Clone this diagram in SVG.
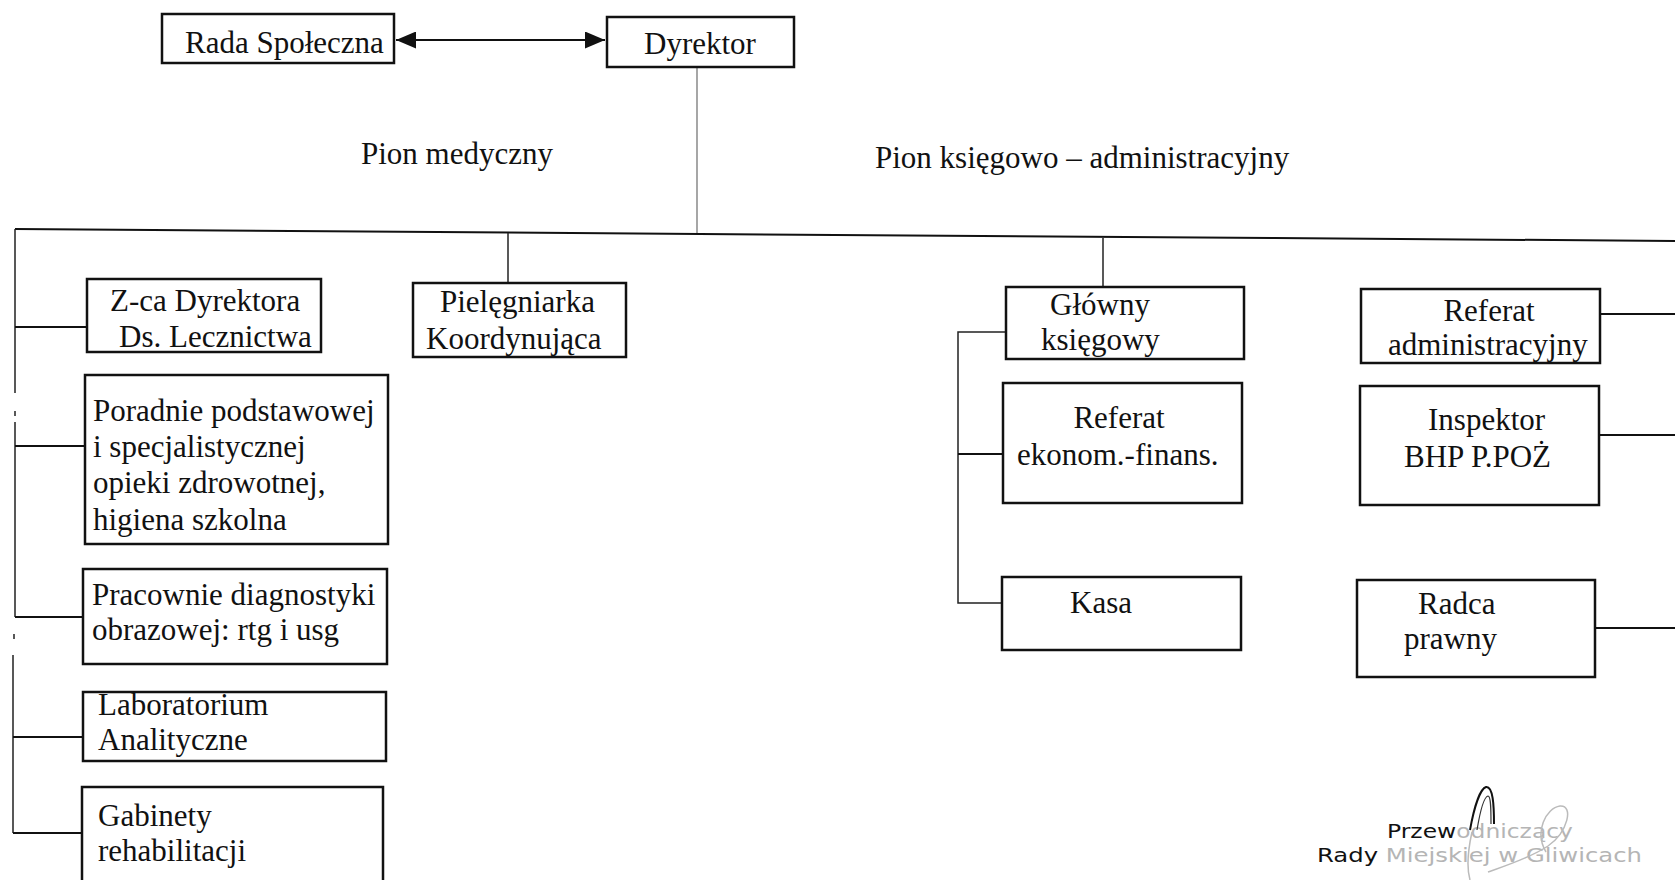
<svg xmlns="http://www.w3.org/2000/svg" width="1675" height="880" viewBox="0 0 1675 880">
<style>
.box{fill:none;stroke:#111;stroke-width:2.5}
.t{font-family:"Liberation Serif","Times New Roman",serif;font-size:31px;fill:#111}
.c{text-anchor:middle}
.ln{stroke:#111;stroke-width:2;fill:none}
.thin{stroke:#222;stroke-width:1.5;fill:none}
.faint{stroke:#777;stroke-width:1.3;fill:none}
.stamp{font-family:"DejaVu Sans","Liberation Sans",sans-serif;font-size:19px;fill:#111}
.grey{fill:#b5b5b5}
</style>
<defs>
<marker id="ah" markerUnits="userSpaceOnUse" markerWidth="20" markerHeight="17" refX="20" refY="8.5" orient="auto-start-reverse">
<path d="M0,0 L20,8.5 L0,17 Z" fill="#111"/>
</marker>
</defs>
<rect width="1675" height="880" fill="#fff"/>

<g id="connectors">
<line class="ln" x1="396" y1="40" x2="605" y2="40" marker-start="url(#ah)" marker-end="url(#ah)"/>
<line class="faint" x1="697" y1="67" x2="697" y2="233"/>
<polyline class="ln" points="15,229 700,234 1275,238 1675,241"/>
<line class="thin" x1="508" y1="233" x2="508" y2="283"/>
<line class="thin" x1="1103" y1="238" x2="1103" y2="287"/>
<path class="thin" d="M15,229 V393 M15,411 V416 M15,422 V617 M14,634 V639 M13,655 V833"/>
<path class="ln" d="M15,327 H87 M15,446 H85 M15,617 H83 M13,737 H83 M13,833 H82"/>
<path class="thin" d="M1006,332 H958 V603 H1002"/>
<path class="ln" d="M958,454 H1003"/>
<path class="ln" d="M1600,314 H1675 M1599,435 H1675 M1595,628 H1675"/>
</g>

<g id="rada"><rect class="box" x="162" y="14" width="232" height="49"/><text class="t" x="185" y="53">Rada Społeczna</text></g>
<g id="dyrektor"><rect class="box" x="607" y="17" width="187" height="50"/><text class="t" x="644" y="54">Dyrektor</text></g>
<g id="pion-medyczny"><text class="t" x="361" y="164">Pion medyczny</text></g>
<g id="pion-ksiegowo"><text class="t" x="875" y="168">Pion księgowo – administracyjny</text></g>

<g id="zca"><rect class="box" x="87" y="279" width="234" height="73"/><text class="t" x="110" y="311">Z-ca Dyrektora</text><text class="t" x="119" y="347">Ds. Lecznictwa</text></g>
<g id="pielegniarka"><rect class="box" x="413" y="283" width="213" height="74"/><text class="t" x="440" y="312">Pielęgniarka</text><text class="t" x="426" y="349">Koordynująca</text></g>
<g id="poradnie"><rect class="box" x="85" y="375" width="303" height="169"/>
<text class="t" x="93" y="421">Poradnie podstawowej</text>
<text class="t" x="93" y="457">i specjalistycznej</text>
<text class="t" x="93" y="493">opieki zdrowotnej,</text>
<text class="t" x="93" y="530">higiena szkolna</text></g>
<g id="pracownie"><rect class="box" x="83" y="569" width="304" height="95"/>
<text class="t" x="92" y="605">Pracownie diagnostyki</text>
<text class="t" x="92" y="640">obrazowej: rtg i usg</text></g>
<g id="laboratorium"><rect class="box" x="83" y="692" width="303" height="69"/>
<text class="t" x="98" y="715">Laboratorium</text>
<text class="t" x="98" y="750">Analityczne</text></g>
<g id="gabinety"><rect class="box" x="82" y="787" width="301" height="110"/>
<text class="t" x="98" y="826">Gabinety</text>
<text class="t" x="98" y="861">rehabilitacji</text></g>

<g id="glowny"><rect class="box" x="1006" y="287" width="238" height="72"/>
<text class="t" x="1050" y="315">Główny</text><text class="t" x="1041" y="350">księgowy</text></g>
<g id="referat-ekonom"><rect class="box" x="1003" y="383" width="239" height="120"/>
<text class="t c" x="1119" y="428">Referat</text><text class="t" x="1017" y="465">ekonom.-finans.</text></g>
<g id="kasa"><rect class="box" x="1002" y="577" width="239" height="73"/>
<text class="t" x="1070" y="613">Kasa</text></g>
<g id="referat-adm"><rect class="box" x="1361" y="289" width="239" height="74"/>
<text class="t c" x="1489" y="321">Referat</text><text class="t" x="1388" y="355">administracyjny</text></g>
<g id="inspektor"><rect class="box" x="1360" y="386" width="239" height="119"/>
<text class="t" x="1428" y="430">Inspektor</text><text class="t" x="1404" y="467">BHP P.POŻ</text></g>
<g id="radca"><rect class="box" x="1357" y="580" width="238" height="97"/>
<text class="t" x="1418" y="614">Radca</text><text class="t" x="1404" y="649">prawny</text></g>

<g id="stamp">
<text class="stamp" x="1387" y="838" textLength="186" lengthAdjust="spacingAndGlyphs">Przew<tspan class="grey">odniczący</tspan></text>
<text class="stamp" x="1317" y="862" textLength="325" lengthAdjust="spacingAndGlyphs">Rady <tspan class="grey">Miejskiej w Gliwicach</tspan></text>
<path d="M1470,830 C1474,808 1480,789 1486,787 C1493,786 1494,805 1494,824" fill="none" stroke="#111" stroke-width="2"/>
<path d="M1477,830 C1480,812 1484,797 1488,796 C1491,796 1491,810 1491,824" fill="none" stroke="#333" stroke-width="1.2"/>
<path d="M1546,852 C1534,832 1546,808 1560,806 C1574,805 1568,832 1548,846 C1530,858 1505,866 1488,872" fill="none" stroke="#bbb" stroke-width="1.5"/>
<path d="M1472,832 C1468,850 1466,866 1470,880" fill="none" stroke="#bbb" stroke-width="1.5"/>
</g>
</svg>
